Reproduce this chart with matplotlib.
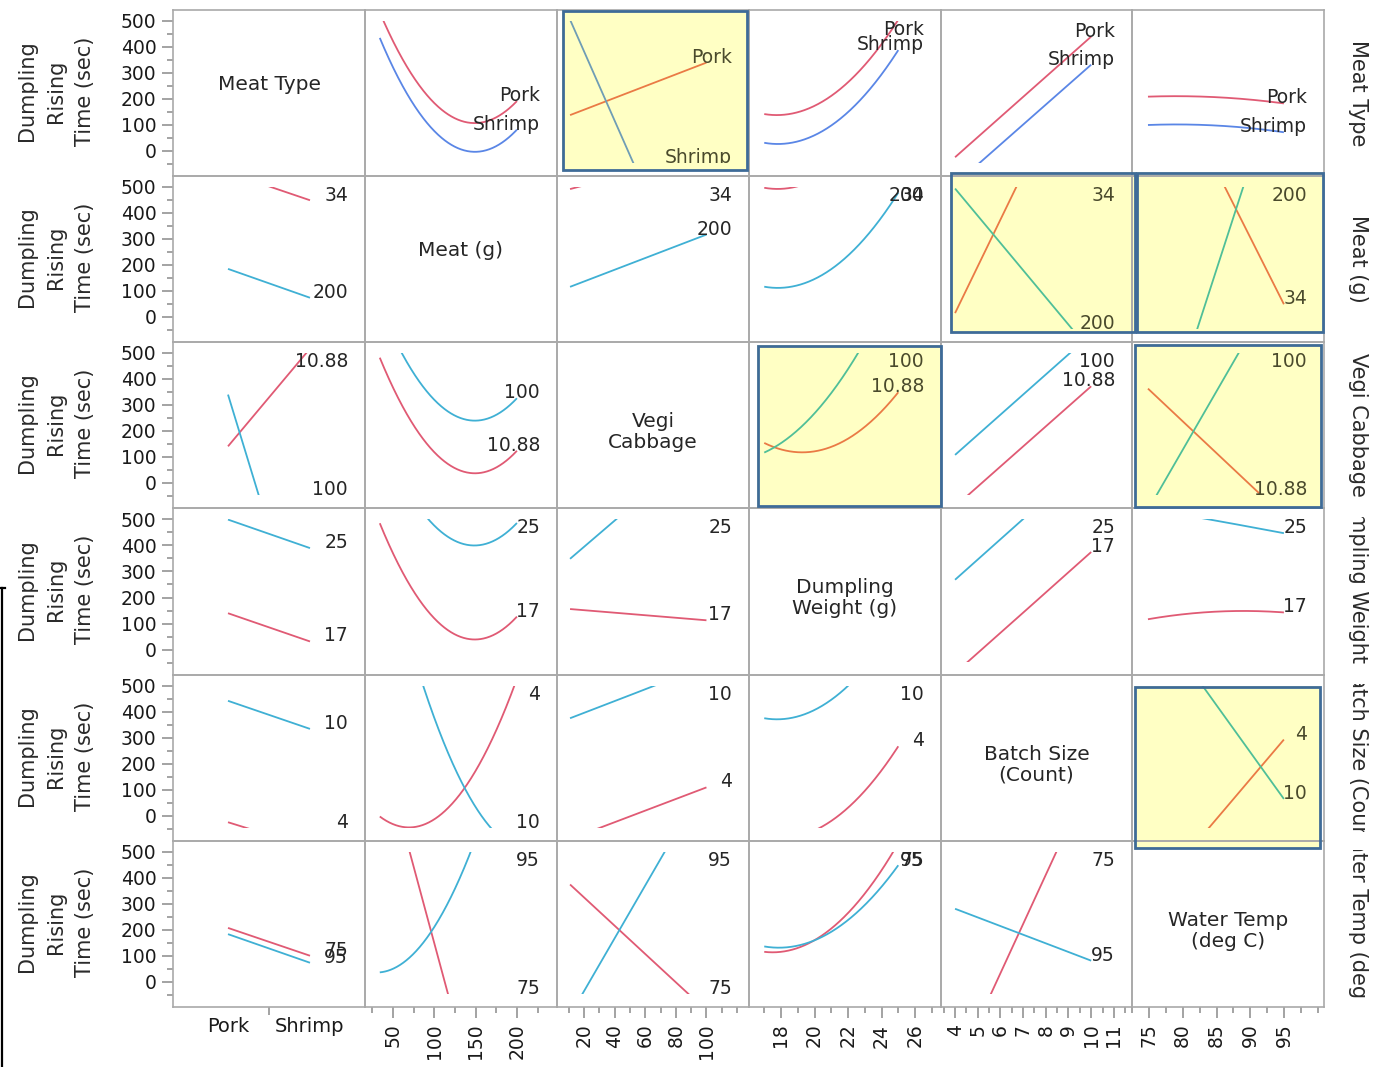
import numpy as np
import matplotlib
matplotlib.use("Agg")
import matplotlib.pyplot as plt
from matplotlib.patches import Rectangle
from matplotlib.lines import Line2D
from matplotlib import transforms

plt.rcParams['font.family'] = ['DejaVu Sans']

# ---- factors -------------------------------------------------------------
factor_names = ["Meat Type", "Meat (g)", "Vegi Cabbage", "Dumpling Weight (g)",
                "Batch Size (Count)", "Water Temp (deg C)"]
diag_titles = ["Meat Type", "Meat (g)", "Vegi\nCabbage", "Dumpling\nWeight (g)",
               "Batch Size\n(Count)", "Water Temp\n(deg C)"]
level_names = [["Pork", "Shrimp"], ["34", "200"], ["10.88", "100"],
               ["17", "25"], ["4", "10"], ["75", "95"]]

# settings of each factor at which the profile is evaluated (low, centre, high)
meat_types = ["Pork", "Shrimp"]
meat_g = [34, 117, 200]
vegi_cabbage = [10.88, 55.44, 100]
dumpling_weight = [17, 21, 25]
batch_size = [4, 7, 10]
water_temp = [75, 85, 95]
x_settings = [None, meat_g, vegi_cabbage, dumpling_weight, batch_size, water_temp]

# axis tick labels
meat_g_ticks = [50, 100, 150, 200]
vegi_ticks = [20, 40, 60, 80, 100]
weight_ticks = [18, 20, 22, 24, 26]
batch_ticks = [4, 5, 6, 7, 8, 9, 10, 11]
temp_ticks = [75, 80, 85, 90, 95]
rise_ticks = [0, 100, 200, 300, 400, 500]

# ---- predicted Dumpling Rising Time (sec) ---------------------------------
# key = column factor; value = (profile at low level, profile at high level)
# of the row factor, taken at the column factor's low / centre / high setting
rise_by_meat_type = {
    1: ([533, 140, 192], [435, 31, 82]),
    2: ([138, 239, 340], [505, -89, -683]),
    3: ([142, 212, 505], [31.5, 98, 388]),
    4: ([-24, 208, 440], [-129, 101.5, 332]),
    5: ([209, 207, 183], [100, 98, 72]),
}
rise_by_meat_g = {
    0: ([556, 449], [185, 74]),
    2: ([492, 561, 630], [116, 216.5, 317]),
    3: ([497, 565, 859], [116.5, 184, 478]),
    4: ([15, 554, 1093], [494, 180, -134]),
    5: ([1088, 568, 49], [-631, 176, 983]),
}
rise_by_vegi = {
    0: ([141, 517], [340, -693]),
    1: ([482, 72, 124], [680, 274, 326]),
    3: ([154, 139, 349], [117, 346, 798]),
    4: ([-91, 140.5, 372], [108, 340, 572]),
    5: ([363, 117, -129], [-104, 349, 801]),
}
rise_by_weight = {
    0: ([140, 32], [498, 389]),
    1: ([484, 74, 127], [823, 431, 485]),
    2: ([156, 134.5, 113], [348, 571.5, 795]),
    4: ([-89, 142, 374], [268, 500, 733]),
    5: ([117, 146, 143], [540, 494, 446]),
}
rise_by_batch = {
    0: ([-24, -122], [443, 335]),
    1: ([-2, 32, 528], [1111, 240, -125]),
    2: ([-89, 10.5, 110], [376, 477, 579]),
    3: ([-83, -19, 268], [376, 447, 747]),
    5: ([-321, -14, 294], [793, 429, 65.5]),
}
rise_by_temp = {
    0: ([208, 101], [184, 74]),
    1: ([926, -51, -1030], [37, 307, 1068]),
    2: ([375, 132.5, -110], [-128, 325, 778]),
    3: ([116, 205.5, 534], [136.7, 193, 449]),
    4: ([-345, 223, 791], [281.6, 182, 82]),
}
profiles = [rise_by_meat_type, rise_by_meat_g, rise_by_vegi,
            rise_by_weight, rise_by_batch, rise_by_temp]

# cells with a strong interaction
highlighted = [(0, 2), (1, 4), (1, 5), (2, 3), (2, 5), (4, 5)]

# ---- layout (pixels) -----------------------------------------------------
W, H = 1375, 1067
col_edges = [173, 365, 557, 749, 941, 1132, 1324]
row_edges = [10, 176, 342, 508, 675, 841, 1007]
xlims = [(-0.671, 1.671), (16.1, 248.5), (2.35, 127.8), (16.09, 27.55),
         (3.38, 11.80), (72.65, 100.9)]
ylim = (-96.2, 542.3)
clip_lo, clip_hi = -46, 500
box_offsets = {(0, 2): (5, -1, 0, -5), (1, 4): (9, 4, -4, -9),
               (1, 5): (4, 0, -4, -9), (2, 3): (8, 1, 3, -1),
               (2, 5): (2, -2, 2, 0), (4, 5): (2, -3, 11, 8)}

red, cyan, blue = '#e05a74', '#3fb0d4', '#5a86e6'
orange, green, slate = '#ea7a45', '#4fbf98', '#6f9db5'
frame_gray = '#a9a9a9'
tick_gray = '#8a8a8a'
text_dark = '#262626'
hl_text = '#4a4a2c'
yellow = '#ffffc4'
box_blue = '#3e6b98'

fig = plt.figure(figsize=(W / 100, H / 100), dpi=100)


def px_rect(x0, y0, x1, y1):
    return [x0 / W, 1 - y1 / H, (x1 - x0) / W, (y1 - y0) / H]


# yellow backgrounds of highlighted cells
for (r, c) in highlighted:
    dx0, dx1, dy0, dy1 = box_offsets[(r, c)]
    x0, x1 = col_edges[c] + dx0, col_edges[c + 1] + dx1
    y0, y1 = row_edges[r] + dy0, row_edges[r + 1] + dy1
    l, b, w, h = px_rect(x0, y0, x1, y1)
    fig.patches.append(Rectangle((l, b), w, h, transform=fig.transFigure,
                                 facecolor=yellow, edgecolor='none', zorder=-5))

axes = {}
for r in range(6):
    for c in range(6):
        ax = fig.add_axes(px_rect(col_edges[c], row_edges[r],
                                  col_edges[c + 1], row_edges[r + 1]))
        ax.set_facecolor('none')
        ax.set_xlim(*xlims[c])
        ax.set_ylim(*ylim)
        for s in ax.spines.values():
            s.set_color(frame_gray)
            s.set_linewidth(1.2)
        ax.tick_params(which='both', length=0, labelleft=False, labelbottom=False)
        axes[(r, c)] = ax

        if r == c:
            ax.text(0.5, 0.55 if '\n' not in diag_titles[r] else 0.46,
                    diag_titles[r], transform=ax.transAxes, ha='center',
                    va='center', fontsize=14.5, color=text_dark, linespacing=1.15)
            continue

        hl = (r, c) in highlighted
        if hl:
            colors = (orange, slate if r == 0 else green)
        else:
            colors = (red, blue if r == 0 else cyan)
        low, high = profiles[r][c]
        xl, xr = xlims[c]
        clip_rect = Rectangle((xl, clip_lo), xr - xl, clip_hi - clip_lo,
                              transform=ax.transData)
        if c == 0:
            xx = np.array([0.0, 1.0])
            yy = [np.asarray(low, float), np.asarray(high, float)]
        else:
            xs = np.asarray(x_settings[c], float)
            xx = np.linspace(xs[0], xs[-1], 300)
            yy = [np.polyval(np.polyfit(xs, np.asarray(v, float), 2), xx)
                  for v in (low, high)]
        for y, col in zip(yy, colors):
            ln, = ax.plot(xx, y, color=col, lw=1.3, solid_capstyle='butt')
            ln.set_clip_path(clip_rect)
        # level labels at the right end of each profile
        lab_tr = transforms.blended_transform_factory(ax.transAxes, ax.transData)
        for y, name in zip(yy, level_names[r]):
            v = float(np.clip(y[-1], clip_lo, 445))
            t = ax.text(1 - 17 / 192, v, name, transform=lab_tr, ha='right',
                        va='baseline', fontsize=13.5,
                        color=hl_text if hl else text_dark, clip_on=True)
            t.set_clip_path(clip_rect)

# left axis: response ticks
for r in range(6):
    ax = axes[(r, 0)]
    ax.set_yticks(rise_ticks)
    ax.set_yticks(np.arange(-50, 501, 50), minor=True)
    ax.tick_params(axis='y', which='major', length=8, width=1.1, color=tick_gray,
                   labelleft=True, labelsize=13.5, pad=4, labelcolor='#1a1a1a')
    ax.tick_params(axis='y', which='minor', length=4.3, width=1.1, color=tick_gray)

# bottom axis: factor ticks
bottom = axes[(5, 0)]
bottom.set_xticks([0, 1])
bottom.set_xticklabels(meat_types)
bottom.set_xticks([0.5], minor=True)
bottom.tick_params(axis='x', which='major', length=0, labelbottom=True,
                   labelsize=14, pad=7, labelcolor='#1a1a1a')
bottom.tick_params(axis='x', which='minor', length=6, width=1.1, color=tick_gray)

tick_sets = [None,
             (meat_g_ticks, np.arange(25, 249, 25)),
             (vegi_ticks, np.arange(10, 121, 10)),
             (weight_ticks, np.arange(17, 28, 1)),
             (batch_ticks, np.arange(3.5, 11.8, 0.5)),
             (temp_ticks, np.arange(72.5, 100.1, 2.5))]
for c in range(1, 6):
    ax = axes[(5, c)]
    major, minor = tick_sets[c]
    ax.set_xticks(major)
    ax.set_xticklabels([str(m) for m in major])
    ax.set_xticks(minor, minor=True)
    ax.tick_params(axis='x', which='major', length=8, width=1.1, color=tick_gray,
                   labelbottom=True, labelsize=13.5, labelrotation=90, pad=4,
                   labelcolor='#1a1a1a')
    ax.tick_params(axis='x', which='minor', length=4.3, width=1.1, color=tick_gray)

# response titles on the left, factor titles on the right
for r in range(6):
    yc = (row_edges[r] + row_edges[r + 1]) / 2
    fig.text(56 / W, 1 - (yc - 2) / H, "Dumpling\nRising\nTime (sec)", rotation=90,
             ha='center', va='center', multialignment='center', fontsize=15,
             color='#2a2a2a', linespacing=1.55)
    t = fig.text(1358 / W, 1 - yc / H, factor_names[r], rotation=270,
                 ha='center', va='center', fontsize=15, color='#2a2a2a',
                 clip_on=True)
    bb = transforms.Bbox.from_extents(1330 / W, 1 - (row_edges[r + 1] - 9) / H,
                                      1375 / W, 1 - (row_edges[r] + 9) / H)
    t.set_clip_box(transforms.TransformedBbox(bb, fig.transFigure))

# blue outlines of highlighted cells
for (r, c) in highlighted:
    dx0, dx1, dy0, dy1 = box_offsets[(r, c)]
    x0, x1 = col_edges[c] + dx0, col_edges[c + 1] + dx1
    y0, y1 = row_edges[r] + dy0, row_edges[r + 1] + dy1
    l, b, w, h = px_rect(x0 + 1, y0 + 1, x1 - 1, y1 - 1)
    fig.patches.append(Rectangle((l, b), w, h, transform=fig.transFigure,
                                 facecolor='none', edgecolor=box_blue,
                                 linewidth=2.0, zorder=10))

# window bracket at the far left
fig.lines.append(Line2D([2 / W, 2 / W], [1 - 588 / H, 0], color='black', lw=1.6,
                        transform=fig.transFigure))
fig.lines.append(Line2D([0, 5 / W], [1 - 588 / H, 1 - 588 / H], color='black',
                        lw=1.6, transform=fig.transFigure))

fig.savefig("out.png", dpi=100, facecolor='white')
